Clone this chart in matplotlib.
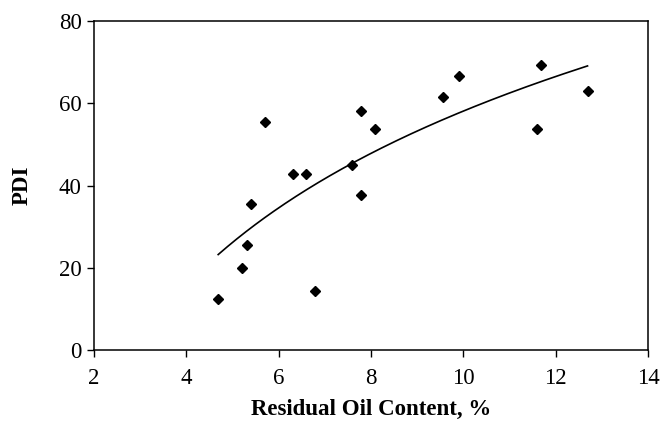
import numpy as np
import matplotlib.pyplot as plt

plt.rcParams['font.family'] = ['Liberation Serif', 'DejaVu Serif']

# residual oil content (%) and PDI
oil = [4.69, 5.21, 5.31, 5.39, 5.70, 6.31, 6.60, 6.79, 7.59, 7.79, 7.79,
       8.09, 9.57, 9.91, 11.69, 11.59, 12.69]
pdi = [12.4, 20.0, 25.6, 35.4, 55.4, 42.9, 42.9, 14.3, 45.0, 37.8, 58.2,
       53.8, 61.6, 66.7, 69.2, 53.8, 63.0]

xticks = [2, 4, 6, 8, 10, 12, 14]
yticks = [0, 20, 40, 60, 80]

oil = np.array(oil)
pdi = np.array(pdi)

# logarithmic trendline, like the Excel one
a, b = np.polyfit(np.log(oil), pdi, 1)
xs = np.linspace(oil.min(), oil.max(), 200)
ys = a * np.log(xs) + b

fig = plt.figure(figsize=(6.61, 4.21), dpi=100)
ax = fig.add_axes([94 / 661, 71 / 421, 554 / 661, 329 / 421])

ax.plot(oil, pdi, 'D', color='black', markersize=5.2, linestyle='none')
ax.plot(xs, ys, color='black', linewidth=1.2)

ax.set_xlim(2, 14)
ax.set_ylim(0, 80)
ax.set_xticks(xticks)
ax.set_yticks(yticks)
ax.tick_params(direction='out', length=5, width=1, labelsize=16.5)
ax.tick_params(axis='x', pad=8)
ax.tick_params(axis='y', pad=4)
for s in ax.spines.values():
    s.set_linewidth(1.1)

ax.set_xlabel("Residual Oil Content, %", fontsize=16.5, fontweight='bold', labelpad=7)
ax.set_ylabel("PDI", fontsize=16.5, fontweight='bold', labelpad=19)

fig.savefig("out.png", dpi=100)
